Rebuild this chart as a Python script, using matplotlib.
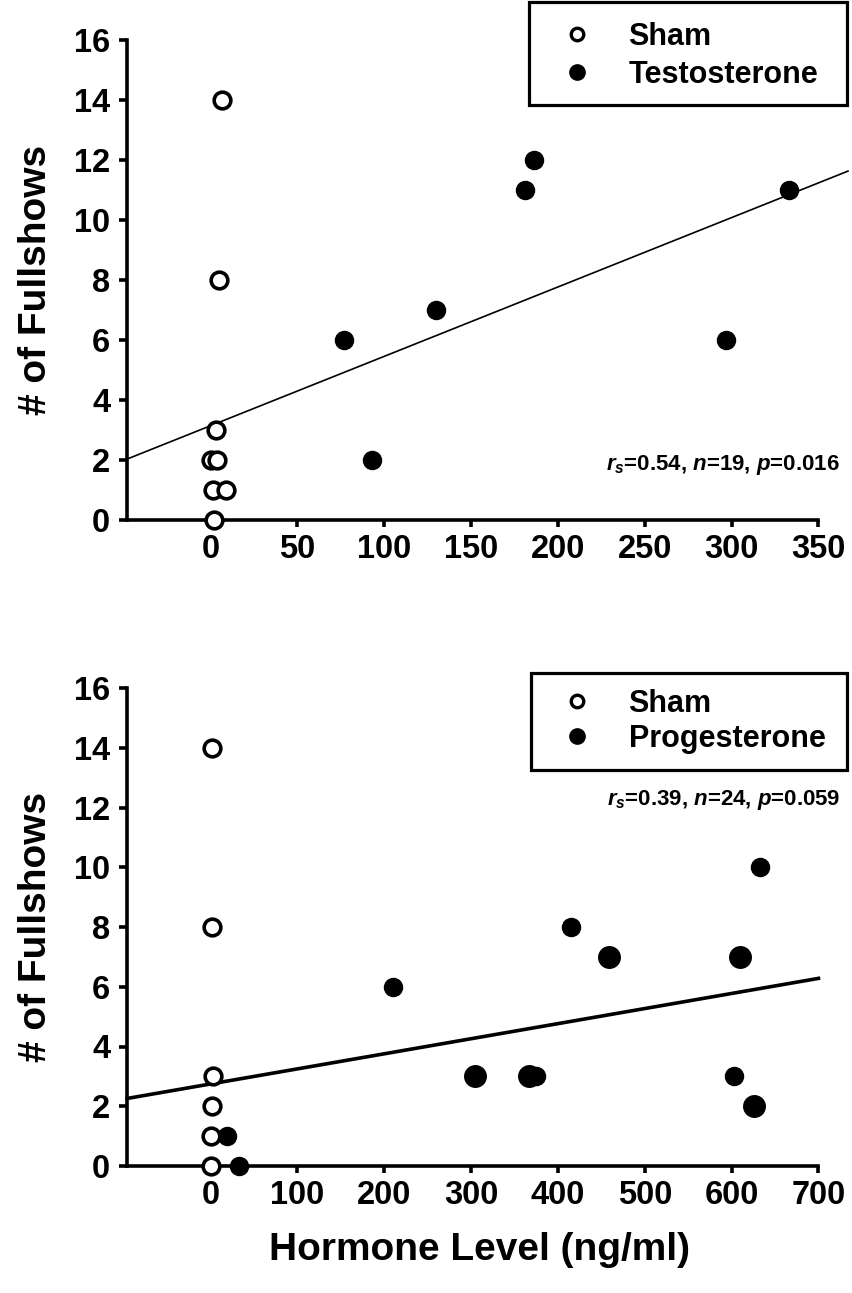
import matplotlib
matplotlib.use("Agg")
import matplotlib.pyplot as plt
from matplotlib.lines import Line2D
from matplotlib.patches import Rectangle

plt.rcParams['font.family'] = ['Liberation Sans', 'DejaVu Sans']
plt.rcParams['font.weight'] = 'bold'
plt.rcParams['mathtext.fontset'] = 'custom'
plt.rcParams['mathtext.it'] = 'Liberation Sans:bold:italic'
plt.rcParams['mathtext.rm'] = 'Liberation Sans:bold'
plt.rcParams['mathtext.bf'] = 'Liberation Sans:bold'

# ---------------- data ----------------
# Top panel: Sham vs Testosterone
top_sham_x = [6.6, 4.9, 3.3, 0.5, 3.9, 1.4, 8.7, 2.0]
top_sham_y = [14, 8, 3, 2, 2, 1, 1, 0]
testo_x = [77, 93, 130, 181, 186, 297, 333]
testo_y = [6, 2, 7, 11, 12, 6, 11]
top_fit_x = [-48, 367]
top_fit_y = [2.03, 11.63]
top_stats = r'$r_s$=0.54, $n$=19, $p$=0.016'
top_xticks = [0, 50, 100, 150, 200, 250, 300, 350]

# Bottom panel: Sham vs Progesterone
bot_sham_x = [2, 2, 3, 2, 1, 1]
bot_sham_y = [14, 8, 3, 2, 1, 0]
prog_x_small = [19, 33, 210, 415, 603, 633, 375]
prog_y_small = [1, 0, 6, 8, 3, 10, 3]
prog_x_large = [305, 367, 459, 610, 626]
prog_y_large = [3, 3, 7, 7, 2]
bot_fit_x = [-96, 700]
bot_fit_y = [2.26, 6.28]
bot_stats = r'$r_s$=0.39, $n$=24, $p$=0.059'
bot_xticks = [0, 100, 200, 300, 400, 500, 600, 700]

yticks = [0, 2, 4, 6, 8, 10, 12, 14, 16]
ylabel = '# of Fullshows'
xlabel = 'Hormone Level (ng/ml)'

W, H = 853, 1293
fig = plt.figure(figsize=(W / 100, H / 100), dpi=100)

def ax_rect(l, t, r, b):
    return [l / W, 1 - b / H, (r - l) / W, (b - t) / H]

ax1 = fig.add_axes(ax_rect(127, 40, 848, 520))
ax2 = fig.add_axes(ax_rect(127, 688, 848, 1166))

SPW = 2.6
TICKFS = 23.5

def style(ax, xlim, xticks):
    ax.set_xlim(*xlim)
    ax.set_ylim(0, 16)
    for s in ['top', 'right']:
        ax.spines[s].set_visible(False)
    ax.spines['left'].set_linewidth(SPW)
    ax.spines['bottom'].set_linewidth(SPW)
    ax.spines['bottom'].set_bounds(xlim[0], xticks[-1])
    ax.spines['left'].set_bounds(0, 16)
    ax.set_xticks(xticks)
    ax.set_yticks(yticks)
    ax.tick_params(axis='y', direction='out', length=6, width=SPW, pad=6,
                   labelsize=TICKFS)
    ax.tick_params(axis='x', direction='out', length=5, width=SPW, pad=5,
                   labelsize=TICKFS)
    for lab in ax.get_xticklabels() + ax.get_yticklabels():
        lab.set_fontweight('bold')
    ax.set_ylabel(ylabel, fontsize=28, fontweight='bold')
    ax.yaxis.set_label_coords(-0.101, 0.5)

style(ax1, (-48, 367), top_xticks)
style(ax2, (-96, 734), bot_xticks)

open_kw = dict(marker='o', linestyle='none', mfc='white', mec='black',
               mew=2.6, ms=12, clip_on=False, zorder=5)
fill_kw = dict(marker='o', linestyle='none', color='black', ms=13,
               clip_on=False, zorder=5)

# top panel
ax1.plot(top_fit_x, top_fit_y, color='black', lw=1.2, clip_on=False, zorder=3)
ax1.plot(testo_x, testo_y, **fill_kw)
ax1.plot(top_sham_x, top_sham_y, **open_kw)

# bottom panel
ax2.plot(bot_fit_x, bot_fit_y, color='black', lw=2.6, clip_on=False, zorder=3)
ax2.plot(prog_x_small, prog_y_small, **fill_kw)
ax2.plot(prog_x_large, prog_y_large, **dict(fill_kw, ms=15.5))
ax2.plot(bot_sham_x, bot_sham_y, **open_kw)

def add_legend(ax, label2, frame, anchor, spacing):
    handles = [
        Line2D([], [], marker='o', linestyle='none', mfc='white', mec='black',
               mew=2.4, ms=9),
        Line2D([], [], marker='o', linestyle='none', color='black', ms=11),
    ]
    leg = ax.legend(handles, ['Sham', label2], loc='center left',
                    bbox_to_anchor=anchor, frameon=False,
                    prop={'family': 'Liberation Sans', 'weight': 'bold', 'size': 22},
                    borderpad=0, handlelength=1.3, handletextpad=1.05,
                    labelspacing=spacing, borderaxespad=0)
    leg.set_zorder(10)
    rect = Rectangle(frame[:2], frame[2], frame[3], transform=ax.transAxes,
                     facecolor='white', edgecolor='black', linewidth=2.3,
                     clip_on=False, zorder=9)
    ax.add_patch(rect)
    return leg

add_legend(ax1, 'Testosterone', (0.558, 0.865, 0.440, 0.2146), (0.596, 0.967), 0.24)
add_legend(ax2, 'Progesterone', (0.561, 0.828, 0.4375, 0.203), (0.596, 0.930), 0.15)

ax1.text(0.989, 0.115, top_stats, transform=ax1.transAxes, ha='right',
         va='center', fontsize=16, fontweight='bold')
ax2.text(0.989, 0.766, bot_stats, transform=ax2.transAxes, ha='right',
         va='center', fontsize=16, fontweight='bold')

fig.text(480 / W, 1 - 1250 / H, xlabel, ha='center',
         va='center', fontsize=28, fontweight='bold')

fig.savefig('out.png', dpi=100, facecolor='white')
